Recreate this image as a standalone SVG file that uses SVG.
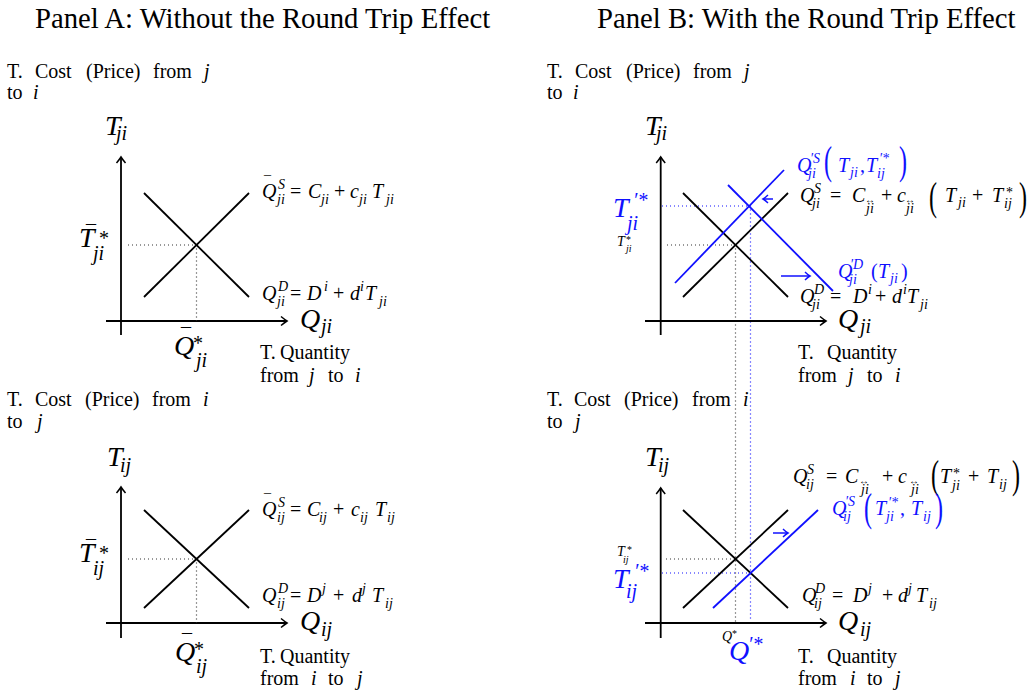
<svg xmlns="http://www.w3.org/2000/svg" width="1031" height="691" viewBox="0 0 1031 691">
<style>
text{font-family:"Liberation Serif","Times New Roman",serif;fill:#000}
.t{font-size:28.7px}
.r{font-size:20px}
.i{font-style:italic}
.m{font-size:20px;font-style:italic}
.u{font-size:20px;font-style:normal}
.s{font-size:14px;font-style:italic}
.su{font-size:14px;font-style:normal}
.L{font-size:28px;font-style:italic}
.k{font-size:14px;font-style:italic}
.kk{font-size:10px;font-style:italic}
.ku{font-size:10px;font-style:normal}
.ar{font-size:10px;font-style:normal}
.P{font-size:40px}
.b{fill:#1010ff}
.ax{stroke:#000;stroke-width:1.8;fill:none}
.ln{stroke:#000;stroke-width:1.8;fill:none}
.bl{stroke:#1010ff;stroke-width:1.8;fill:none}
.dk{stroke:#333;stroke-width:1.2;stroke-dasharray:1 3;fill:none}
.db{stroke:#1010ff;stroke-width:1.2;stroke-dasharray:1 3;fill:none}
.ba{stroke:#1010ff;stroke-width:1.5;fill:none}
</style>
<defs>
<marker id="ah" viewBox="-8 -6 10 12" markerWidth="10" markerHeight="12" refX="0" refY="0" orient="auto" markerUnits="userSpaceOnUse">
<path d="M-6,-4.5 Q-2,-1.2 0,0 Q-2,1.2 -6,4.5" fill="none" stroke="#000" stroke-width="1.5"/>
</marker>
<marker id="bh" viewBox="-8 -6 10 12" markerWidth="10" markerHeight="12" refX="0" refY="0" orient="auto" markerUnits="userSpaceOnUse">
<path d="M-5,-4 Q-2,-1 0,0 Q-2,1 -5,4" fill="none" stroke="#1010ff" stroke-width="1.4"/>
</marker>
</defs>
<rect width="1031" height="691" fill="#fff"/>

<text class="t" x="35" y="28">Panel A: Without the Round Trip Effect</text>
<text class="t" x="597" y="28">Panel B: With the Round Trip Effect</text>

<!-- Panel A top -->
<g id="panelA-top">
<text class="r" y="78"><tspan x="7">T.</tspan><tspan x="35">Cost</tspan><tspan x="86">(Price)</tspan><tspan x="153">from</tspan><tspan x="204" class="i">j</tspan></text>
<text class="r" y="99"><tspan x="7">to</tspan><tspan x="33" class="i">i</tspan></text>
<path class="ax" d="M121,335 V157" marker-end="url(#ah)"/>
<path class="ax" d="M106,321 H287" marker-end="url(#ah)"/>
<path class="dk" d="M128,245 H196.5 V321"/>
<line class="ln" x1="144" y1="297" x2="249" y2="193"/>
<line class="ln" x1="144" y1="193" x2="249" y2="297"/>
<text><tspan class="L" x="105" y="135">T</tspan><tspan class="m" x="116" y="140">ji</tspan></text>
<text><tspan class="u" x="86" y="240">¯</tspan><tspan class="L" x="79" y="247">T</tspan><tspan class="u" x="99" y="245">*</tspan><tspan class="m" x="93" y="260">ji</tspan></text>
<text><tspan class="u" x="181" y="343">¯</tspan><tspan class="L" x="174" y="355">Q</tspan><tspan class="u" x="193" y="350">*</tspan><tspan class="m" x="196" y="367">ji</tspan></text>
<text><tspan class="L" x="300" y="328">Q</tspan><tspan class="m" x="321" y="333">ji</tspan></text>
<text><tspan class="su" x="264" y="186">¯</tspan><tspan class="m" x="262" y="198">Q</tspan><tspan class="s" x="278" y="189">S</tspan><tspan class="s" x="277" y="204">ji</tspan><tspan class="u" x="290" y="198">=</tspan><tspan class="m" x="308" y="198">C</tspan><tspan class="s" x="321" y="204">ji</tspan><tspan class="u" x="334" y="198">+</tspan><tspan class="m" x="350" y="198">c</tspan><tspan class="s" x="359" y="204">ji</tspan><tspan class="m" x="372" y="198">T</tspan><tspan class="s" x="386" y="204">ji</tspan></text>
<text><tspan class="m" x="262" y="300">Q</tspan><tspan class="s" x="278" y="291">D</tspan><tspan class="s" x="277" y="306">ji</tspan><tspan class="u" x="290" y="300">=</tspan><tspan class="m" x="307" y="300">D</tspan><tspan class="s" x="324" y="291">i</tspan><tspan class="u" x="333" y="300">+</tspan><tspan class="m" x="350" y="300">d</tspan><tspan class="s" x="360" y="291">i</tspan><tspan class="m" x="365" y="300">T</tspan><tspan class="s" x="379" y="306">ji</tspan></text>
<text class="r" y="359"><tspan x="260">T.</tspan><tspan x="280">Quantity</tspan></text>
<text class="r" y="382"><tspan x="260">from</tspan><tspan x="309" class="i">j</tspan><tspan x="328">to</tspan><tspan x="355" class="i">i</tspan></text>
</g>

<!-- Panel A bottom -->
<g id="panelA-bottom">
<text class="r" y="406"><tspan x="7">T.</tspan><tspan x="35">Cost</tspan><tspan x="85">(Price)</tspan><tspan x="152">from</tspan><tspan x="203" class="i">i</tspan></text>
<text class="r" y="428"><tspan x="7">to</tspan><tspan x="37" class="i">j</tspan></text>
<path class="ax" d="M121,638 V487" marker-end="url(#ah)"/>
<path class="ax" d="M106,623 H287" marker-end="url(#ah)"/>
<path class="dk" d="M128,559 H196.5 V623"/>
<line class="ln" x1="144" y1="608" x2="249" y2="510"/>
<line class="ln" x1="144" y1="510" x2="249" y2="608"/>
<text><tspan class="L" x="107" y="466">T</tspan><tspan class="m" x="120" y="472">ij</tspan></text>
<text><tspan class="u" x="86" y="555">¯</tspan><tspan class="L" x="79" y="562">T</tspan><tspan class="u" x="99" y="560">*</tspan><tspan class="m" x="93" y="575">ij</tspan></text>
<text><tspan class="u" x="182" y="649">¯</tspan><tspan class="L" x="175" y="661">Q</tspan><tspan class="u" x="194" y="656">*</tspan><tspan class="m" x="196" y="673">ij</tspan></text>
<text><tspan class="L" x="300" y="630">Q</tspan><tspan class="m" x="321" y="636">ij</tspan></text>
<text><tspan class="su" x="264" y="504">¯</tspan><tspan class="m" x="262" y="516">Q</tspan><tspan class="s" x="278" y="507">S</tspan><tspan class="s" x="277" y="522">ij</tspan><tspan class="u" x="290" y="516">=</tspan><tspan class="m" x="307" y="516">C</tspan><tspan class="s" x="319" y="522">ij</tspan><tspan class="u" x="333" y="516">+</tspan><tspan class="m" x="351" y="516">c</tspan><tspan class="s" x="360" y="522">ij</tspan><tspan class="m" x="375" y="516">T</tspan><tspan class="s" x="387" y="522">ij</tspan></text>
<text><tspan class="m" x="262" y="602">Q</tspan><tspan class="s" x="278" y="593">D</tspan><tspan class="s" x="277" y="608">ij</tspan><tspan class="u" x="290" y="602">=</tspan><tspan class="m" x="307" y="602">D</tspan><tspan class="s" x="322" y="593">j</tspan><tspan class="u" x="333" y="602">+</tspan><tspan class="m" x="352" y="602">d</tspan><tspan class="s" x="362" y="593">j</tspan><tspan class="m" x="372" y="602">T</tspan><tspan class="s" x="385" y="608">ij</tspan></text>
<text class="r" y="663"><tspan x="260">T.</tspan><tspan x="280">Quantity</tspan></text>
<text class="r" y="685"><tspan x="260">from</tspan><tspan x="311" class="i">i</tspan><tspan x="328">to</tspan><tspan x="357" class="i">j</tspan></text>
</g>

<!-- Panel B guide lines shared by both graphs -->
<g id="connectors">
<path class="dk" d="M667,245 H735.5 V623"/>
<path class="db" d="M662,206 H750.5 V620"/>
<path class="dk" d="M666,559 H735.5"/>
<path class="db" d="M662,573 H750.5"/>
</g>

<!-- Panel B top -->
<g id="panelB-top">
<text class="r" y="78"><tspan x="547">T.</tspan><tspan x="575">Cost</tspan><tspan x="626">(Price)</tspan><tspan x="693">from</tspan><tspan x="744" class="i">j</tspan></text>
<text class="r" y="99"><tspan x="547">to</tspan><tspan x="573" class="i">i</tspan></text>
<path class="ax" d="M660.7,335 V157" marker-end="url(#ah)"/>
<path class="ax" d="M645,321 H826" marker-end="url(#ah)"/>
<text><tspan class="L" x="645" y="135">T</tspan><tspan class="m" x="656" y="140">ji</tspan></text>
<text class="b"><tspan class="L" x="613" y="217">T</tspan><tspan class="m" x="633" y="207">′*</tspan><tspan class="m" x="627" y="230">ji</tspan></text>
<text><tspan class="k" x="617" y="246">T</tspan><tspan class="ku" x="626" y="243">*</tspan><tspan class="kk" x="626" y="252">ji</tspan></text>
<text><tspan class="m" x="800" y="202">Q</tspan><tspan class="s" x="814" y="193">S</tspan><tspan class="s" x="812" y="208">ji</tspan><tspan class="u" x="830" y="202">=</tspan><tspan class="m" x="852" y="202">C</tspan><tspan class="ar" x="865" y="203">↔</tspan><tspan class="s" x="866" y="213">ji</tspan><tspan class="u" x="881" y="202">+</tspan><tspan class="m" x="897" y="202">c</tspan><tspan class="ar" x="905" y="203">↔</tspan><tspan class="s" x="906" y="213">ji</tspan><tspan class="m" x="945" y="202">T</tspan><tspan class="s" x="958" y="207">ji</tspan><tspan class="u" x="972" y="202">+</tspan><tspan class="m" x="992" y="202">T</tspan><tspan class="su" x="1006" y="197">*</tspan><tspan class="s" x="1004" y="208">ij</tspan></text>
<text class="P" transform="translate(929,210) scale(0.6,1)">(</text>
<text class="P" transform="translate(1019,210) scale(0.6,1)">)</text>
<text><tspan class="m" x="800" y="303">Q</tspan><tspan class="s" x="814" y="294">D</tspan><tspan class="s" x="812" y="309">ji</tspan><tspan class="u" x="830" y="303">=</tspan><tspan class="m" x="853" y="303">D</tspan><tspan class="s" x="868" y="294">i</tspan><tspan class="u" x="875" y="303">+</tspan><tspan class="m" x="892" y="303">d</tspan><tspan class="s" x="903" y="294">i</tspan><tspan class="m" x="907" y="303">T</tspan><tspan class="s" x="920" y="309">ji</tspan></text>
<line class="ln" x1="683" y1="297" x2="788" y2="193"/>
<line class="ln" x1="683" y1="193" x2="788" y2="297"/>
<line class="bl" x1="675" y1="283" x2="784" y2="170"/>
<line class="bl" x1="728" y1="185" x2="833" y2="291"/>
<path class="ba" d="M773,199 H763" marker-end="url(#bh)"/>
<path class="ba" d="M781,276 H810" marker-end="url(#bh)"/>
<text class="b"><tspan class="m" x="797" y="172">Q</tspan><tspan class="s" x="810" y="163">′S</tspan><tspan class="s" x="808" y="178">ji</tspan><tspan class="m" x="838" y="172">T</tspan><tspan class="s" x="850" y="177">ji</tspan><tspan class="u" x="860" y="172">,</tspan><tspan class="m" x="866" y="172">T</tspan><tspan class="s" x="879" y="163">′*</tspan><tspan class="s" x="877" y="178">ij</tspan></text>
<text class="P b" transform="translate(824,174) scale(0.6,1)">(</text>
<text class="P b" transform="translate(899,174) scale(0.6,1)">)</text>
<text class="b"><tspan class="m" x="838" y="278">Q</tspan><tspan class="s" x="850" y="269">′D</tspan><tspan class="s" x="849" y="284">ji</tspan><tspan class="u" x="871" y="278">(</tspan><tspan class="m" x="878" y="278">T</tspan><tspan class="s" x="890" y="283">ji</tspan><tspan class="u" x="901" y="278">)</tspan></text>
<text><tspan class="L" x="838" y="328">Q</tspan><tspan class="m" x="860" y="333">ji</tspan></text>
<text class="r" y="359"><tspan x="798">T.</tspan><tspan x="827">Quantity</tspan></text>
<text class="r" y="382"><tspan x="798">from</tspan><tspan x="848" class="i">j</tspan><tspan x="867">to</tspan><tspan x="895" class="i">i</tspan></text>
</g>

<!-- Panel B bottom -->
<g id="panelB-bottom">
<text class="r" y="406"><tspan x="547">T.</tspan><tspan x="574">Cost</tspan><tspan x="624">(Price)</tspan><tspan x="692">from</tspan><tspan x="743" class="i">i</tspan></text>
<text class="r" y="428"><tspan x="547">to</tspan><tspan x="575" class="i">j</tspan></text>
<path class="ax" d="M660.7,638 V488" marker-end="url(#ah)"/>
<path class="ax" d="M645,623 H826" marker-end="url(#ah)"/>
<text><tspan class="L" x="645" y="466">T</tspan><tspan class="m" x="658" y="472">ij</tspan></text>
<text><tspan class="k" x="617" y="556">T</tspan><tspan class="ku" x="627" y="553">*</tspan><tspan class="kk" x="623" y="563">ij</tspan></text>
<text class="b"><tspan class="L" x="613" y="588">T</tspan><tspan class="m" x="634" y="578">′*</tspan><tspan class="m" x="626" y="598">ij</tspan></text>
<text><tspan class="k" x="722" y="641">Q</tspan><tspan class="ku" x="732" y="637">*</tspan></text>
<text class="b"><tspan class="L" x="729" y="660">Q</tspan><tspan class="m" x="748" y="651">′*</tspan></text>
<text><tspan class="m" x="793" y="483">Q</tspan><tspan class="s" x="807" y="474">S</tspan><tspan class="s" x="806" y="489">ij</tspan><tspan class="u" x="826" y="483">=</tspan><tspan class="m" x="845" y="483">C</tspan><tspan class="ar" x="859" y="484">↔</tspan><tspan class="s" x="861" y="494">ji</tspan><tspan class="u" x="882" y="483">+</tspan><tspan class="m" x="898" y="483">c</tspan><tspan class="ar" x="909" y="484">↔</tspan><tspan class="s" x="911" y="494">ji</tspan><tspan class="m" x="940" y="483">T</tspan><tspan class="su" x="953" y="478">*</tspan><tspan class="s" x="952" y="490">ji</tspan><tspan class="u" x="968" y="483">+</tspan><tspan class="m" x="987" y="483">T</tspan><tspan class="s" x="999" y="489">ij</tspan></text>
<text class="P" transform="translate(931,488) scale(0.6,1)">(</text>
<text class="P" transform="translate(1012,488) scale(0.6,1)">)</text>
<text><tspan class="m" x="802" y="602">Q</tspan><tspan class="s" x="815" y="593">D</tspan><tspan class="s" x="814" y="608">ij</tspan><tspan class="u" x="832" y="602">=</tspan><tspan class="m" x="853" y="602">D</tspan><tspan class="s" x="868" y="593">j</tspan><tspan class="u" x="882" y="602">+</tspan><tspan class="m" x="898" y="602">d</tspan><tspan class="s" x="908" y="593">j</tspan><tspan class="m" x="916" y="602">T</tspan><tspan class="s" x="929" y="608">ij</tspan></text>
<line class="ln" x1="683" y1="608" x2="788" y2="510"/>
<line class="ln" x1="683" y1="510" x2="788" y2="608"/>
<line class="bl" x1="713" y1="608" x2="818" y2="510"/>
<path class="ba" d="M773,533 H788" marker-end="url(#bh)"/>
<text class="b"><tspan class="m" x="832" y="515">Q</tspan><tspan class="s" x="845" y="506">′S</tspan><tspan class="s" x="843" y="521">ij</tspan><tspan class="m" x="875" y="515">T</tspan><tspan class="s" x="888" y="507">′*</tspan><tspan class="s" x="886" y="521">ji</tspan><tspan class="u" x="900" y="515">,</tspan><tspan class="m" x="911" y="515">T</tspan><tspan class="s" x="923" y="521">ij</tspan></text>
<text class="P b" transform="translate(864,521) scale(0.6,1)">(</text>
<text class="P b" transform="translate(935,521) scale(0.6,1)">)</text>
<text><tspan class="L" x="838" y="630">Q</tspan><tspan class="m" x="860" y="636">ij</tspan></text>
<text class="r" y="663"><tspan x="798">T.</tspan><tspan x="827">Quantity</tspan></text>
<text class="r" y="685"><tspan x="798">from</tspan><tspan x="850" class="i">i</tspan><tspan x="867">to</tspan><tspan x="895" class="i">j</tspan></text>
</g>
</svg>
